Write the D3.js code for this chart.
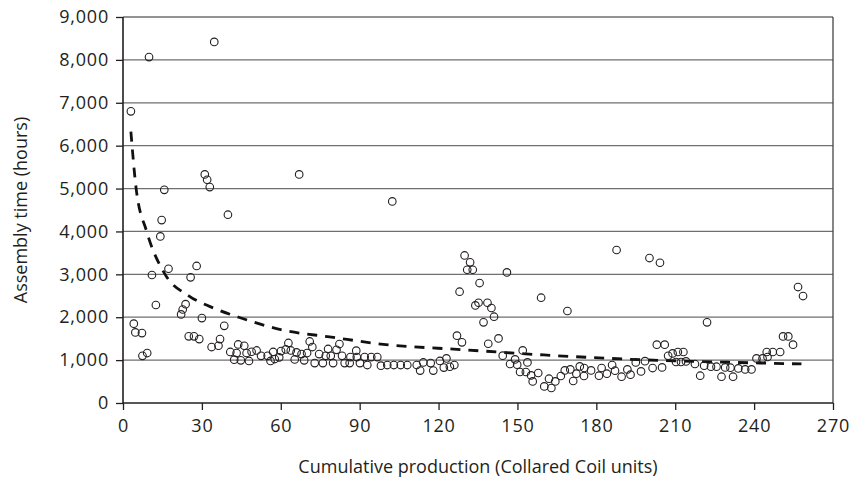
<!DOCTYPE html>
<html>
<head>
<meta charset="utf-8">
<script src="https://cdn.jsdelivr.net/npm/d3@7"></script>
<style>
  html, body { margin: 0; padding: 0; background: #fff; }
  #chart { width: 853px; height: 484px; }
  text { font-family: "Open Sans", "DejaVu Sans", sans-serif; fill: #231f20; }
</style>
</head>
<body>
<div id="chart"></div>
<script>
// Cumulative production (units) and assembly time (hours) for each unit
const production = [
  3.0, 4.1, 4.7, 7.2, 7.4, 9.2, 9.9, 11, 12.5, 14.2, 14.7, 15.7, 17.3, 22.1, 22.7, 23.8,
  25, 25.7, 27, 28, 29, 30, 31.1, 32, 33, 33.7, 34.7, 36.3, 36.9, 38.5, 39.9, 40.8,
  42.3, 43.2, 43.8, 44.8, 46.1, 47, 47.9, 48.9, 50.8, 52.5, 55, 56.1, 57.1, 57.7, 59.4, 60.1,
  61.9, 62.9, 63.8, 65.3, 66, 67, 67.9, 68.9, 70, 71, 72, 72.9, 74.6, 76, 77.1, 78,
  79, 79.9, 81.2, 82.3, 83.3, 84.3, 86.2, 86.5, 88.7, 88.9, 90.1, 91.9, 92.9, 94.4, 96.7, 98.1,
  100.5, 102.4, 103, 105.6, 108.1, 111.7, 113, 114.2, 117, 118, 120.5, 122, 123, 124.3, 126, 127,
  128, 128.9, 129.9, 130.9, 132, 133, 134, 135.2, 135.6, 137.1, 138.6, 138.9, 140.1, 141.1, 142.8, 144.4,
  146, 147.2, 149.1, 149.9, 151, 152, 153.2, 153.8, 155.2, 155.8, 157.9, 159, 160.2, 162, 162.9, 164.4,
  166.5, 168, 169, 170.1, 171.2, 172.4, 173.7, 175.3, 175.4, 178, 181, 182, 184, 186, 187.1, 187.7,
  189.6, 191.8, 193, 195, 197, 198.5, 200.2, 201.4, 203, 204.2, 205, 206, 207.3, 209, 210.3, 211,
  212.2, 213.1, 214.1, 217.5, 219.5, 221, 222.1, 223.6, 225.7, 227.6, 229, 231, 232, 234, 236.6, 239,
  240.9, 243.2, 244.8, 245.1, 247.1, 249.9, 251, 253, 254.8, 256.7, 258.6
]
const hours = [
  6800, 1850, 1645, 1630, 1100, 1165, 8065, 2985, 2285, 3885, 4265, 4970, 3130, 2065, 2180, 2305,
  1555, 2930, 1555, 3195, 1490, 1980, 5330, 5205, 5035, 1305, 8420, 1335, 1490, 1800, 4390, 1190,
  1010, 1165, 1365, 995, 1335, 1165, 980, 1195, 1225, 1100, 1100, 980, 1190, 1025, 1065, 1210,
  1250, 1400, 1225, 1015, 1180, 5330, 1140, 995, 1165, 1435, 1305, 930, 1140, 930, 1100, 1260,
  1100, 930, 1240, 1375, 1100, 930, 930, 1070, 1220, 1070, 930, 1070, 885, 1070, 1070, 870,
  885, 4700, 885, 885, 885, 885, 755, 945, 930, 755, 980, 825, 1040, 845, 885, 1570,
  2595, 1415, 3440, 3107, 3280, 3107, 2275, 2338, 2797, 1880, 2338, 1382, 2215, 2012, 1506, 1103,
  3045, 909, 1016, 893, 723, 1226, 723, 946, 643, 504, 699, 2455, 387, 566, 350, 504,
  629, 760, 2145, 783, 513, 683, 853, 629, 816, 760, 636, 816, 683, 886, 753, 3567,
  613, 783, 660, 946, 737, 975, 3380, 815, 1360, 3270, 830, 1360, 1100, 1156, 956, 1189,
  956, 1189, 970, 909, 636, 870, 1880, 846, 846, 613, 830, 823, 613, 806, 783, 783,
  1040, 1040, 1189, 1072, 1189, 1189, 1553, 1553, 1360, 2704, 2494
]

// Fitted learning curve
const curveX = [3, 5, 9, 16, 25, 35, 44, 60, 80, 98, 130, 160, 204, 230, 258]
const curveY = [6330, 5000, 4000, 3000, 2500, 2200, 2000, 1710, 1530, 1375, 1240, 1120, 993, 950, 910]

const xTicks = [0, 30, 60, 90, 120, 150, 180, 210, 240, 270]
const yTicks = [0, 1000, 2000, 3000, 4000, 5000, 6000, 7000, 8000, 9000]

const margin = { top: 17, right: 20, bottom: 81, left: 123 }
const width = 853 - margin.left - margin.right
const height = 484 - margin.top - margin.bottom

const svg = d3.select("#chart")
  .append("svg")
  .attr("width", 853)
  .attr("height", 484)

const g = svg.append("g")
  .attr("transform", `translate(${margin.left},${margin.top})`)

const x = d3.scaleLinear().domain([0, 270]).range([0, width])
const y = d3.scaleLinear().domain([0, 9000]).range([height, 0])

// Grid lines
g.append("g")
  .selectAll("line")
  .data(yTicks.filter(d => d > 0))
  .join("line")
  .attr("x1", 0)
  .attr("x2", width)
  .attr("y1", d => y(d))
  .attr("y2", d => y(d))
  .attr("stroke", "#6f6f6f")
  .attr("stroke-width", 1.3)

// Right border
g.append("line")
  .attr("x1", width).attr("x2", width)
  .attr("y1", 0).attr("y2", height)
  .attr("stroke", "#444")
  .attr("stroke-width", 1.3)

// Axes
const fmt = d3.format(",")
const yAxis = g.append("g")
  .call(d3.axisLeft(y).tickValues(yTicks).tickSize(7).tickPadding(7).tickFormat(fmt))
const xAxis = g.append("g")
  .attr("transform", `translate(0,${height})`)
  .call(d3.axisBottom(x).tickValues(xTicks).tickSize(7).tickPadding(9))

for (const ax of [xAxis, yAxis]) {
  ax.select(".domain").attr("stroke", "#231f20").attr("stroke-width", 1.6)
  ax.selectAll(".tick line").attr("stroke", "#231f20").attr("stroke-width", 1.3)
  ax.selectAll(".tick text")
    .attr("font-family", "'Open Sans', sans-serif")
    .attr("font-size", 18)
    .attr("letter-spacing", 0.8)
    .attr("fill", "#231f20")
}
xAxis.select(".domain").attr("d", `M0,0H${width}`)
yAxis.select(".domain").attr("d", `M0,${height}V0`)

// Dashed learning curve
const line = d3.line()
  .x((d, i) => x(curveX[i]))
  .y(d => y(d))
  .curve(d3.curveMonotoneX)

g.append("path")
  .datum(curveY)
  .attr("fill", "none")
  .attr("stroke", "#111")
  .attr("stroke-width", 2.8)
  .attr("stroke-dasharray", "10,8")
  .attr("d", line)

// Scatter points
g.append("g")
  .selectAll("circle")
  .data(production)
  .join("circle")
  .attr("cx", d => x(d))
  .attr("cy", (d, i) => y(hours[i]))
  .attr("r", 3.8)
  .attr("fill", "none")
  .attr("stroke", "#231f20")
  .attr("stroke-width", 1.1)

// Axis titles
svg.append("text")
  .attr("x", margin.left + width / 2)
  .attr("y", 473)
  .attr("text-anchor", "middle")
  .attr("font-size", 18)
  .text("Cumulative production (Collared Coil units)")

svg.append("text")
  .attr("transform", `translate(27,${margin.top + height / 2}) rotate(-90)`)
  .attr("text-anchor", "middle")
  .attr("font-size", 18)
  .text("Assembly time (hours)")
</script>
</body>
</html>
